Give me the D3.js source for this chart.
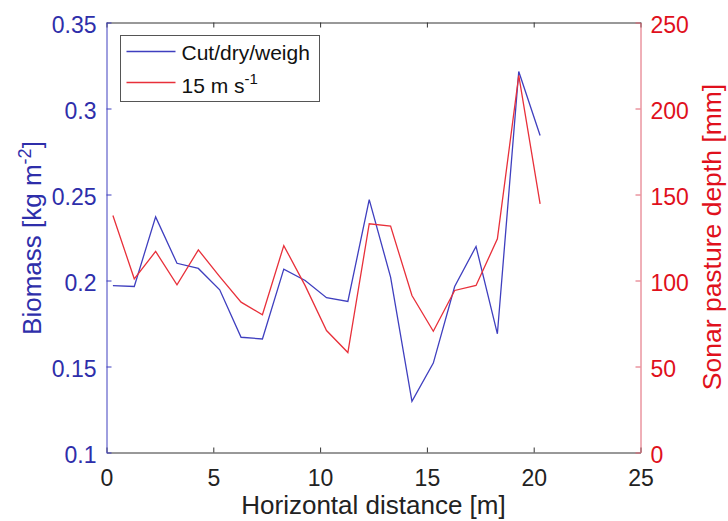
<!DOCTYPE html>
<html>
<head>
<meta charset="utf-8">
<script src="https://cdn.jsdelivr.net/npm/d3@7"></script>
<style>
  body { margin: 0; background: #fff; }
  svg { font-family: "Liberation Sans", Arial, sans-serif; }
</style>
</head>
<body>
<div id="chart"></div>
<script>
// sample positions along the transect [m]
const distance = [0.3, 1.3, 2.3, 3.3, 4.3, 5.3, 6.3, 7.3, 8.3, 9.3, 10.3,
  11.3, 12.3, 13.3, 14.3, 15.3, 16.3, 17.3, 18.3, 19.3, 20.3];
// Cut/dry/weigh biomass [kg m-2]
const biomass = [0.197, 0.1965, 0.237, 0.210, 0.207, 0.1946, 0.167, 0.166, 0.2066, 0.200, 0.190,
  0.1878, 0.247, 0.202, 0.1297, 0.152, 0.1965, 0.2198, 0.169, 0.3215, 0.2843];
// sonar pasture depth at 15 m/s [mm]
const sonar = [137.8, 101, 116.9, 97.5, 117.8, 102.3, 87.4, 80.1, 120.3, 97, 70.9,
  58.1, 133, 131.6, 91.3, 70.5, 94.2, 97.1, 124.2, 219.2, 144.6];

const xTicks = [0, 5, 10, 15, 20, 25];
const leftTicks = [0.1, 0.15, 0.2, 0.25, 0.3, 0.35];
const rightTicks = [0, 50, 100, 150, 200, 250];

const W = 728, H = 521;
const margin = { top: 22.5, right: 87.5, bottom: 68.5, left: 106.5 };
const width = W - margin.left - margin.right;
const height = H - margin.top - margin.bottom;

const blue = '#3f3fbf', blueText = '#2e2eaa';
const red = '#e8303a', redText = '#e0101c';

const svg = d3.select('#chart').append('svg')
  .attr('width', W)
  .attr('height', H);

const chart = svg.append('g')
  .attr('transform', `translate(${margin.left}, ${margin.top})`);

const x = d3.scaleLinear().domain([0, 25]).range([0, width]);
const yL = d3.scaleLinear().domain([0.1, 0.35]).range([height, 0]);
const yR = d3.scaleLinear().domain([0, 250]).range([height, 0]);

// bottom axis (ticks pointing inward)
const xAxis = chart.append('g')
  .attr('transform', `translate(0, ${height})`)
  .call(d3.axisBottom(x).tickValues(xTicks).tickSizeInner(-5).tickSizeOuter(0).tickPadding(17));
xAxis.select('.domain').attr('stroke', '#333');
xAxis.selectAll('.tick line').attr('stroke', '#333');
xAxis.selectAll('text').attr('fill', '#222').attr('font-size', 23);

// top border with mirrored ticks
const topAxis = chart.append('g')
  .call(d3.axisTop(x).tickValues(xTicks).tickSizeInner(-5).tickSizeOuter(0).tickFormat(''));
topAxis.select('.domain').attr('stroke', '#333');
topAxis.selectAll('.tick line').attr('stroke', '#333');

// left axis
const leftAxis = chart.append('g')
  .call(d3.axisLeft(yL).tickValues(leftTicks).tickSizeInner(-5).tickSizeOuter(0).tickPadding(10)
    .tickFormat(d3.format('~g')));
leftAxis.select('.domain').attr('stroke', blue);
leftAxis.selectAll('.tick line').attr('stroke', blue);
leftAxis.selectAll('text').attr('fill', blueText).attr('font-size', 23).attr('dy', '0.45em');

// right axis
const rightAxis = chart.append('g')
  .attr('transform', `translate(${width}, 0)`)
  .call(d3.axisRight(yR).tickValues(rightTicks).tickSizeInner(-5).tickSizeOuter(0).tickPadding(10));
rightAxis.select('.domain').attr('stroke', '#e06070');
rightAxis.selectAll('.tick line').attr('stroke', '#e06070');
rightAxis.selectAll('text').attr('fill', redText).attr('font-size', 23).attr('dy', '0.45em');

// series lines
const lineL = d3.line().x((d, i) => x(distance[i])).y(d => yL(d));
const lineR = d3.line().x((d, i) => x(distance[i])).y(d => yR(d));

chart.append('path')
  .datum(biomass)
  .attr('fill', 'none')
  .attr('stroke', blue)
  .attr('stroke-width', 1.3)
  .attr('d', lineL);

chart.append('path')
  .datum(sonar)
  .attr('fill', 'none')
  .attr('stroke', red)
  .attr('stroke-width', 1.3)
  .attr('d', lineR);

// axis titles
svg.append('text')
  .attr('x', margin.left + width / 2)
  .attr('y', 514)
  .attr('text-anchor', 'middle')
  .attr('font-size', 26)
  .attr('fill', '#222')
  .text('Horizontal distance [m]');

const leftTitle = svg.append('text')
  .attr('transform', `translate(41, 238) rotate(-90)`)
  .attr('text-anchor', 'middle')
  .attr('font-size', 26)
  .attr('fill', blueText);
leftTitle.append('tspan').text('Biomass [kg m');
leftTitle.append('tspan').attr('dy', -10).attr('font-size', 18).text('-2');
leftTitle.append('tspan').attr('dy', 10).text(']');

svg.append('text')
  .attr('transform', `translate(721, 237) rotate(-90)`)
  .attr('text-anchor', 'middle')
  .attr('font-size', 26.5)
  .attr('fill', redText)
  .text('Sonar pasture depth [mm]');

// legend
const legend = svg.append('g').attr('transform', 'translate(120.5, 35.5)');
legend.append('rect')
  .attr('width', 199)
  .attr('height', 66)
  .attr('fill', '#fff')
  .attr('stroke', '#555');

const legendItems = [
  { color: blue, y: 16 },
  { color: red, y: 47 }
];
legend.selectAll('line')
  .data(legendItems)
  .enter()
  .append('line')
  .attr('x1', 6).attr('x2', 55)
  .attr('y1', d => d.y).attr('y2', d => d.y)
  .attr('stroke', d => d.color)
  .attr('stroke-width', 1.3);

legend.append('text')
  .attr('x', 61).attr('y', 24)
  .attr('font-size', 21)
  .attr('fill', '#111')
  .text('Cut/dry/weigh');

const l2 = legend.append('text')
  .attr('x', 61).attr('y', 57.5)
  .attr('font-size', 21)
  .attr('fill', '#111');
l2.append('tspan').text('15 m s');
l2.append('tspan').attr('dy', -9).attr('font-size', 15).text('-1');
</script>
</body>
</html>
